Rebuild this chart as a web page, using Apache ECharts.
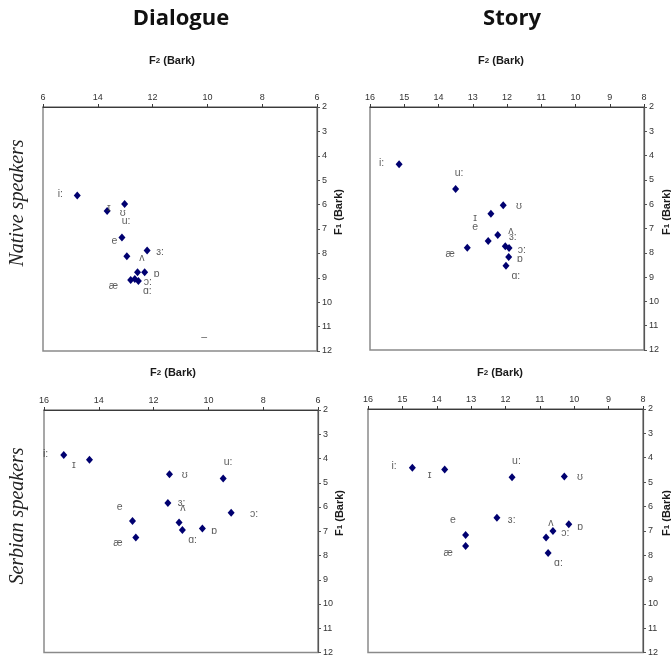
<!DOCTYPE html>
<html><head><meta charset="utf-8">
<script src="https://cdn.jsdelivr.net/npm/echarts@6/dist/echarts.min.js"></script>
<style>html,body{margin:0;padding:0;background:#fff}#c{width:671px;height:657px}</style>
</head><body><div id="c"></div>
<script>
// ---------- Data (Bark units) ----------
// Top-left: Dialogue, native speakers
const tlPointF2 = [14.75, 13.66, 13.02, 13.12, 12.94, 12.2, 12.55, 12.29, 12.8, 12.65, 12.52];
const tlPointF1 = [5.63, 6.26, 5.98, 7.35, 8.12, 7.88, 8.77, 8.77, 9.09, 9.05, 9.13];
const tlLabelText = ['i:', 'ɪ', 'ʊ', 'u:', 'e', 'ʌ', 'ɜ:', 'ɒ', 'ɔ:', 'ɑ:', 'æ', '–'];
const tlLabelF2 = [15.37, 13.6, 13.09, 12.97, 13.39, 12.39, 11.73, 11.85, 12.17, 12.19, 13.43, 10.12];
const tlLabelF1 = [5.57, 6.16, 6.34, 6.68, 7.48, 8.21, 7.93, 8.86, 9.16, 9.56, 9.34, 11.45];

// Top-right: Story, native speakers
const trPointF2 = [15.15, 13.5, 12.11, 12.47, 12.27, 12.55, 13.16, 12.05, 11.94, 11.95, 12.03];
const trPointF1 = [4.36, 5.37, 6.04, 6.39, 7.27, 7.51, 7.79, 7.73, 7.8, 8.17, 8.53];
const trLabelText = ['i:', 'u:', 'ʊ', 'ɪ', 'e', 'ʌ', 'ɜ:', 'ɔ:', 'ɒ', 'ɑ:', 'æ'];
const trLabelF2 = [15.66, 13.4, 11.65, 12.93, 12.93, 11.89, 11.83, 11.57, 11.62, 11.74, 13.66];
const trLabelF1 = [4.3, 4.74, 6.08, 6.56, 6.93, 7.11, 7.34, 7.89, 8.26, 8.95, 8.07];

// Bottom-left: Dialogue, Serbian speakers
const blPointF2 = [15.28, 14.34, 11.42, 9.46, 11.48, 9.17, 12.77, 11.07, 10.95, 10.22, 12.65];
const blPointF1 = [3.86, 4.05, 4.65, 4.82, 5.84, 6.24, 6.58, 6.64, 6.95, 6.89, 7.26];
const blLabelText = ['i:', 'ɪ', 'ʊ', 'u:', 'e', 'ɜ:', 'ʌ', 'ɔ:', 'ɒ', 'ɑ:', 'æ'];
const blLabelF2 = [15.94, 14.91, 10.86, 9.28, 13.24, 10.98, 10.93, 8.33, 9.79, 10.58, 13.3];
const blLabelF1 = [3.82, 4.26, 4.69, 4.16, 5.99, 5.85, 6.05, 6.3, 7.0, 7.38, 7.5];

// Bottom-right: Story, Serbian speakers
const brPointF2 = [14.71, 13.77, 11.81, 10.29, 12.25, 10.16, 10.62, 13.16, 10.82, 13.16, 10.76];
const brPointF1 = [4.41, 4.48, 4.8, 4.77, 6.47, 6.73, 7.01, 7.17, 7.28, 7.63, 7.91];
const brLabelText = ['i:', 'ɪ', 'u:', 'ʊ', 'e', 'ɜ:', 'ʌ', 'ɔ:', 'ɒ', 'ɑ:', 'æ'];
const brLabelF2 = [15.24, 14.21, 11.68, 9.83, 13.53, 11.82, 10.68, 10.26, 9.83, 10.46, 13.67];
const brLabelF1 = [4.36, 4.73, 4.14, 4.81, 6.58, 6.56, 6.68, 7.08, 6.83, 8.34, 7.92];

// Tick labels for the top-left F2 axis (left-most label is cut in the original)
const tlXTickValues = [16, 14, 12, 10, 8, 6];
const tlXTickLabels = ['6', '14', '12', '10', '8', '6'];

const panelTitles = ['Dialogue', 'Story'];
const rowTitles = ['Native speakers', 'Serbian speakers'];

// ---------- Chart ----------
const chart = echarts.init(document.getElementById('c'), null, {renderer: 'canvas'});
const axisFont = {fontFamily: 'Liberation Sans, Arial, sans-serif', fontSize: 9, color: '#333'};

function xAx(gi, min, max, interval, fmt) {
  return {
    gridIndex: gi, type: 'value', position: 'top', inverse: true,
    min: min, max: max, interval: interval,
    axisLine: {show: true, lineStyle: {color: '#3a3a3a', width: 1}},
    axisTick: {show: true, inside: false, length: 3, lineStyle: {color: '#3a3a3a'}},
    axisLabel: Object.assign({margin: 5, formatter: fmt || undefined}, axisFont),
    splitLine: {show: false}
  };
}
function yAx(gi) {
  return {
    gridIndex: gi, type: 'value', position: 'right', inverse: true,
    min: 2, max: 12, interval: 1,
    axisLine: {show: true, lineStyle: {color: '#555', width: 1.2}},
    axisTick: {show: true, inside: false, length: 3, lineStyle: {color: '#555'}},
    axisLabel: Object.assign({margin: 5}, axisFont),
    splitLine: {show: false}
  };
}
function zip(a, b) { return a.map((v, i) => [v, b[i]]); }
function pointSeries(gi, f2, f1) {
  return {
    type: 'scatter', xAxisIndex: gi, yAxisIndex: gi,
    symbol: 'diamond', symbolSize: [7, 8],
    itemStyle: {color: '#000070', opacity: 1},
    data: zip(f2, f1), silent: true, z: 3
  };
}
function labelSeries(gi, text, f2, f1) {
  return {
    type: 'scatter', xAxisIndex: gi, yAxisIndex: gi,
    symbol: 'circle', symbolSize: 1,
    itemStyle: {color: 'rgba(0,0,0,0)'},
    label: {
      show: true, position: 'inside',
      formatter: p => p.value[2],
      fontFamily: 'Liberation Sans, DejaVu Sans, sans-serif',
      fontSize: 10.5, color: '#333'
    },
    data: f2.map((v, i) => [v, f1[i], text[i]]), silent: true, z: 4
  };
}

const gridBox = {show: true, borderColor: '#8a8a8a', borderWidth: 1.5, backgroundColor: '#fff'};
const f2Rich = {
  b: {fontFamily: 'Liberation Sans, Arial, sans-serif', fontWeight: 'bold', fontSize: 11, fill: '#1a1a1a'},
  s: {fontFamily: 'Liberation Sans, Arial, sans-serif', fontWeight: 'bold', fontSize: 8, fill: '#1a1a1a'}
};
function axTitle(x, y, sub, rot) {
  return {
    type: 'text', x: x, y: y, rotation: rot || 0,
    style: {
      text: '{b|F}{s|' + sub + '}{b| (Bark)}', rich: f2Rich,
      align: 'center', verticalAlign: 'middle'
    }
  };
}
function bigTitle(x, text) {
  return {
    type: 'text', x: x, y: 19,
    style: {text: text, fontFamily: 'Open Sans, Noto Sans, sans-serif', fontWeight: 'bold',
      fontSize: 22, fill: '#111', align: 'center', verticalAlign: 'middle'}
  };
}
function rowTitle(y, text) {
  return {
    type: 'text', x: 18, y: y, rotation: Math.PI / 2,
    style: {text: text, fontFamily: 'Liberation Serif, DejaVu Serif, serif', fontStyle: 'italic',
      fontSize: 20, fill: '#222', align: 'center', verticalAlign: 'middle'}
  };
}

chart.setOption({
  backgroundColor: '#fff',
  animation: false,
  grid: [
    Object.assign({left: 43, top: 107, width: 274, height: 244}, gridBox),
    Object.assign({left: 370, top: 107, width: 274, height: 243}, gridBox),
    Object.assign({left: 44, top: 410, width: 274, height: 245}, gridBox),
    Object.assign({left: 368, top: 409, width: 275, height: 244}, gridBox)
  ],
  xAxis: [
    xAx(0, 6, 16, 2, v => tlXTickLabels[tlXTickValues.indexOf(v)]),
    xAx(1, 8, 16, 1),
    xAx(2, 6, 16, 2),
    xAx(3, 8, 16, 1)
  ],
  yAxis: [yAx(0), yAx(1), yAx(2), yAx(3)],
  series: [
    pointSeries(0, tlPointF2, tlPointF1), labelSeries(0, tlLabelText, tlLabelF2, tlLabelF1),
    pointSeries(1, trPointF2, trPointF1), labelSeries(1, trLabelText, trLabelF2, trLabelF1),
    pointSeries(2, blPointF2, blPointF1), labelSeries(2, blLabelText, blLabelF2, blLabelF1),
    pointSeries(3, brPointF2, brPointF1), labelSeries(3, brLabelText, brLabelF2, brLabelF1)
  ],
  graphic: [
    bigTitle(181, panelTitles[0]),
    bigTitle(512, panelTitles[1]),
    axTitle(172, 61, '2'),
    axTitle(501, 61, '2'),
    axTitle(173, 373, '2'),
    axTitle(500, 373, '2'),
    axTitle(339, 212, '1', Math.PI / 2),
    axTitle(667, 212, '1', Math.PI / 2),
    axTitle(340, 513, '1', Math.PI / 2),
    axTitle(667, 513, '1', Math.PI / 2),
    rowTitle(203, rowTitles[0]),
    rowTitle(516, rowTitles[1])
  ]
});
</script>
</body></html>
